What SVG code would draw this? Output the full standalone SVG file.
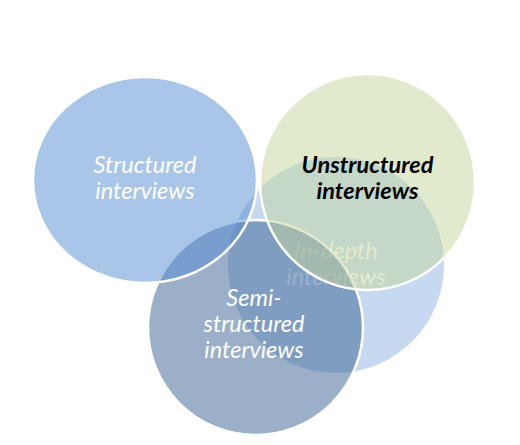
<svg xmlns="http://www.w3.org/2000/svg" width="520" height="445" viewBox="0 0 520 445">
<style>
.c{fill-opacity:0.5}
.s{stroke:#ffffff;stroke-width:2.5}
.t{font-family:"Lato","Liberation Sans",sans-serif;font-style:italic;font-size:23.5px;text-anchor:middle;fill:#ffffff}
.b{fill:#000000;font-weight:bold}
</style>
<rect width="520" height="445" fill="#ffffff"/>
<g id="in-depth">
<ellipse class="c" cx="336" cy="265" rx="108" ry="108" fill="#8DB3E2"/>
<text class="t" x="336" y="259">In-depth</text>
<text class="t" x="336" y="285">interviews</text>
</g>
<g id="semi-structured">
<ellipse class="c s" cx="255.5" cy="327.5" rx="107.5" ry="107.5" fill="#376092"/>
<text class="t" x="254" y="306">Semi-</text>
<text class="t" x="254" y="332">structured</text>
<text class="t" x="254" y="358">interviews</text>
</g>
<g id="structured">
<ellipse class="c s" cx="145" cy="180" rx="112" ry="103" fill="#548DD4"/>
<text class="t" x="145" y="173">Structured</text>
<text class="t" x="145" y="199">interviews</text>
</g>
<g id="unstructured">
<ellipse class="c s" cx="367.5" cy="182" rx="107.5" ry="108" fill="#C3D69B"/>
<text class="t b" x="367.5" y="173">Unstructured</text>
<text class="t b" x="367.5" y="199">interviews</text>
</g>
<g id="connectors"/>
</svg>
